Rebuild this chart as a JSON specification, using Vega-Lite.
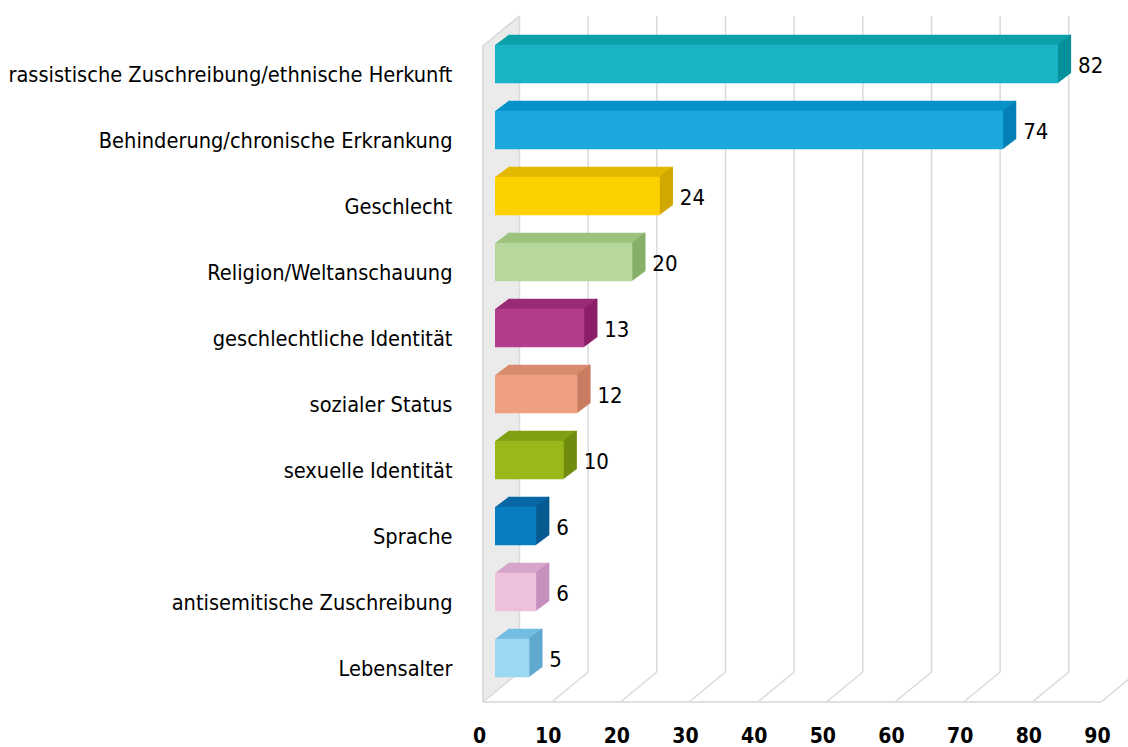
{
"$schema":"https://vega.github.io/schema/vega-lite/v6.json",
"width":618,"height":660,
"autosize":{"type":"none"},
"padding":{"left":495,"top":31,"right":15,"bottom":56},
"background":"white",
"config":{"view":{"stroke":null},
 "axisX":{"grid":false,"ticks":false,"domain":false,"labelFont":"Liberation Sans Narrow, DejaVu Sans Condensed, sans-serif","labelFontSize":21,"labelFontWeight":"bold","labelColor":"#000000","labelPadding":34,"labelOffset":-16,"labelFlush":false,"labelOverlap":false},
 "axisY":{"grid":false,"ticks":false,"domain":false,"labelFont":"Liberation Sans Narrow, DejaVu Sans Condensed, sans-serif","labelFontSize":21.6,"labelColor":"#000000","labelPadding":43,"labelOffset":12,"labelLimit":600}},
"datasets":{
 "bars":[
  {"cat":"rassistische Zuschreibung/ethnische Herkunft","value":82},
  {"cat":"Behinderung/chronische Erkrankung","value":74},
  {"cat":"Geschlecht","value":24},
  {"cat":"Religion/Weltanschauung","value":20},
  {"cat":"geschlechtliche Identität","value":13},
  {"cat":"sozialer Status","value":12},
  {"cat":"sexuelle Identität","value":10},
  {"cat":"Sprache","value":6},
  {"cat":"antisemitische Zuschreibung","value":6},
  {"cat":"Lebensalter","value":5}
 ],
 "grid":[{"v":0},{"v":10},{"v":20},{"v":30},{"v":40},{"v":50},{"v":60},{"v":70},{"v":80},{"v":90}],
 "one":[{"id":1}]
},
"data":{"name":"bars"},
"resolve":{"scale":{"color":"independent"}},
"layer":[
 {"data":{"name":"one"},
  "encoding":{"x":{"datum":0,"type":"quantitative","title":null},
   "y":{"datum":"rassistische Zuschreibung/ethnische Herkunft","type":"nominal","bandPosition":0.5,"title":null},
   "y2":{"datum":"Lebensalter","bandPosition":0.5}},
  "layer":[
   {"mark":{"type":"rule","stroke":"#ebebeb","strokeWidth":2.4,"xOffset":-11,"yOffset":-18.82,"y2Offset":43.18}},
   {"mark":{"type":"rule","stroke":"#ebebeb","strokeWidth":2.4,"xOffset":-9,"yOffset":-20.47,"y2Offset":41.53}},
   {"mark":{"type":"rule","stroke":"#ebebeb","strokeWidth":2.4,"xOffset":-7,"yOffset":-22.11,"y2Offset":39.89}},
   {"mark":{"type":"rule","stroke":"#ebebeb","strokeWidth":2.4,"xOffset":-5,"yOffset":-23.75,"y2Offset":38.25}},
   {"mark":{"type":"rule","stroke":"#ebebeb","strokeWidth":2.4,"xOffset":-3,"yOffset":-25.4,"y2Offset":36.6}},
   {"mark":{"type":"rule","stroke":"#ebebeb","strokeWidth":2.4,"xOffset":-1,"yOffset":-27.04,"y2Offset":34.96}},
   {"mark":{"type":"rule","stroke":"#ebebeb","strokeWidth":2.4,"xOffset":1,"yOffset":-28.69,"y2Offset":33.31}},
   {"mark":{"type":"rule","stroke":"#ebebeb","strokeWidth":2.4,"xOffset":3,"yOffset":-30.33,"y2Offset":31.67}},
   {"mark":{"type":"rule","stroke":"#ebebeb","strokeWidth":2.4,"xOffset":5,"yOffset":-31.97,"y2Offset":30.03}},
   {"mark":{"type":"rule","stroke":"#ebebeb","strokeWidth":2.4,"xOffset":7,"yOffset":-33.62,"y2Offset":28.38}},
   {"mark":{"type":"rule","stroke":"#ebebeb","strokeWidth":2.4,"xOffset":9,"yOffset":-35.26,"y2Offset":26.74}},
   {"mark":{"type":"rule","stroke":"#ebebeb","strokeWidth":2.4,"xOffset":11,"yOffset":-36.91,"y2Offset":25.09}},
   {"mark":{"type":"rule","stroke":"#ebebeb","strokeWidth":2.4,"xOffset":13,"yOffset":-38.55,"y2Offset":23.45}},
   {"mark":{"type":"rule","stroke":"#ebebeb","strokeWidth":2.4,"xOffset":15,"yOffset":-40.19,"y2Offset":21.81}},
   {"mark":{"type":"rule","stroke":"#ebebeb","strokeWidth":2.4,"xOffset":17,"yOffset":-41.84,"y2Offset":20.16}},
   {"mark":{"type":"rule","stroke":"#ebebeb","strokeWidth":2.4,"xOffset":19,"yOffset":-43.48,"y2Offset":18.52}},
   {"mark":{"type":"rule","stroke":"#ebebeb","strokeWidth":2.4,"xOffset":21,"yOffset":-45.13,"y2Offset":16.87}},
   {"mark":{"type":"rule","stroke":"#ebebeb","strokeWidth":2.4,"xOffset":23,"yOffset":-46.77,"y2Offset":15.23}},
   {"mark":{"type":"rule","stroke":"#d6d6d6","strokeWidth":1.5,"xOffset":-12,"yOffset":-18,"y2Offset":44}}
  ]},
 {"data":{"name":"one"},
  "mark":{"type":"rule","stroke":"#d6d6d6","strokeWidth":1.5,"xOffset":-12,"x2Offset":24.5,"yOffset":-18,"y2Offset":-48},
  "encoding":{"x":{"datum":0,"type":"quantitative","title":null},"x2":{"datum":0},
   "y":{"datum":"rassistische Zuschreibung/ethnische Herkunft","type":"nominal","bandPosition":0.5,"title":null},
   "y2":{"datum":"rassistische Zuschreibung/ethnische Herkunft","bandPosition":0.5}}},
 {"data":{"name":"one"},
  "mark":{"type":"rule","stroke":"#d6d6d6","strokeWidth":1.5,"xOffset":-12,"x2Offset":-12,"yOffset":44},
  "encoding":{"x":{"datum":0,"type":"quantitative","title":null},"x2":{"datum":90},
   "y":{"datum":"Lebensalter","type":"nominal","bandPosition":0.5,"title":null}}},
 {"data":{"name":"grid"},
  "mark":{"type":"rule","stroke":"#dadada","strokeWidth":1.5,"xOffset":24.5,"yOffset":-48,"y2Offset":14},
  "encoding":{"x":{"field":"v","type":"quantitative","title":null},
   "y":{"datum":"rassistische Zuschreibung/ethnische Herkunft","type":"nominal","bandPosition":0.5,"title":null},
   "y2":{"datum":"Lebensalter","bandPosition":0.5}}},
 {"data":{"name":"grid"},
  "mark":{"type":"rule","stroke":"#dadada","strokeWidth":1.5,"xOffset":24.5,"x2Offset":-12,"yOffset":14,"y2Offset":44},
  "encoding":{"x":{"field":"v","type":"quantitative","title":null},"x2":{"field":"v"},
   "y":{"datum":"Lebensalter","type":"nominal","bandPosition":0.5,"title":null},
   "y2":{"datum":"Lebensalter","bandPosition":0.5}}},
 {"encoding":{
   "x":{"field":"value","type":"quantitative","title":null,"scale":{"domain":[0,90],"nice":false,"zero":true}},
   "y":{"field":"cat","type":"nominal","title":null,"scale":{"domain":["rassistische Zuschreibung/ethnische Herkunft","Behinderung/chronische Erkrankung","Geschlecht","Religion/Weltanschauung","geschlechtliche Identität","sozialer Status","sexuelle Identität","Sprache","antisemitische Zuschreibung","Lebensalter"],"paddingInner":0.42,"paddingOuter":0.21}},
   "color":{"field":"cat","type":"nominal","legend":null,"scale":{"domain":["rassistische Zuschreibung/ethnische Herkunft","Behinderung/chronische Erkrankung","Geschlecht","Religion/Weltanschauung","geschlechtliche Identität","sozialer Status","sexuelle Identität","Sprache","antisemitische Zuschreibung","Lebensalter"],"range":["#0aa0a8","#0892c8","#e3b800","#9cc27e","#9b2a77","#d98b6e","#80a014","#0868a5","#d7a5ca","#72bde0"]}}},
  "layer":[
   {"mark":{"type":"bar","xOffset":1,"x2Offset":1,"yOffset":-0.77,"y2Offset":-0.77}},
   {"mark":{"type":"bar","xOffset":2,"x2Offset":2,"yOffset":-1.54,"y2Offset":-1.54}},
   {"mark":{"type":"bar","xOffset":3,"x2Offset":3,"yOffset":-2.31,"y2Offset":-2.31}},
   {"mark":{"type":"bar","xOffset":4,"x2Offset":4,"yOffset":-3.08,"y2Offset":-3.08}},
   {"mark":{"type":"bar","xOffset":5,"x2Offset":5,"yOffset":-3.85,"y2Offset":-3.85}},
   {"mark":{"type":"bar","xOffset":6,"x2Offset":6,"yOffset":-4.62,"y2Offset":-4.62}},
   {"mark":{"type":"bar","xOffset":7,"x2Offset":7,"yOffset":-5.38,"y2Offset":-5.38}},
   {"mark":{"type":"bar","xOffset":8,"x2Offset":8,"yOffset":-6.15,"y2Offset":-6.15}},
   {"mark":{"type":"bar","xOffset":9,"x2Offset":9,"yOffset":-6.92,"y2Offset":-6.92}},
   {"mark":{"type":"bar","xOffset":10,"x2Offset":10,"yOffset":-7.69,"y2Offset":-7.69}},
   {"mark":{"type":"bar","xOffset":11,"x2Offset":11,"yOffset":-8.46,"y2Offset":-8.46}},
   {"mark":{"type":"bar","xOffset":12,"x2Offset":12,"yOffset":-9.23,"y2Offset":-9.23}},
   {"mark":{"type":"bar","xOffset":13,"x2Offset":13,"yOffset":-10,"y2Offset":-10}}
  ]},
 {"encoding":{
   "x":{"field":"value","type":"quantitative","title":null},
   "x2":{"field":"value"},
   "y":{"field":"cat","type":"nominal","title":null},
   "color":{"field":"cat","type":"nominal","legend":null,"scale":{"domain":["rassistische Zuschreibung/ethnische Herkunft","Behinderung/chronische Erkrankung","Geschlecht","Religion/Weltanschauung","geschlechtliche Identität","sozialer Status","sexuelle Identität","Sprache","antisemitische Zuschreibung","Lebensalter"],"range":["#07929a","#0681b6","#cfa500","#84ad67","#8a1f69","#c77b60","#6d8a10","#065a90","#c590bd","#5ea8cc"]}}},
  "layer":[
   {"mark":{"type":"bar","xOffset":-0.2,"x2Offset":1,"yOffset":-0.77,"y2Offset":-0.77}},
   {"mark":{"type":"bar","xOffset":0.8,"x2Offset":2,"yOffset":-1.54,"y2Offset":-1.54}},
   {"mark":{"type":"bar","xOffset":1.8,"x2Offset":3,"yOffset":-2.31,"y2Offset":-2.31}},
   {"mark":{"type":"bar","xOffset":2.8,"x2Offset":4,"yOffset":-3.08,"y2Offset":-3.08}},
   {"mark":{"type":"bar","xOffset":3.8,"x2Offset":5,"yOffset":-3.85,"y2Offset":-3.85}},
   {"mark":{"type":"bar","xOffset":4.8,"x2Offset":6,"yOffset":-4.62,"y2Offset":-4.62}},
   {"mark":{"type":"bar","xOffset":5.8,"x2Offset":7,"yOffset":-5.38,"y2Offset":-5.38}},
   {"mark":{"type":"bar","xOffset":6.8,"x2Offset":8,"yOffset":-6.15,"y2Offset":-6.15}},
   {"mark":{"type":"bar","xOffset":7.8,"x2Offset":9,"yOffset":-6.92,"y2Offset":-6.92}},
   {"mark":{"type":"bar","xOffset":8.8,"x2Offset":10,"yOffset":-7.69,"y2Offset":-7.69}},
   {"mark":{"type":"bar","xOffset":9.8,"x2Offset":11,"yOffset":-8.46,"y2Offset":-8.46}},
   {"mark":{"type":"bar","xOffset":10.8,"x2Offset":12,"yOffset":-9.23,"y2Offset":-9.23}},
   {"mark":{"type":"bar","xOffset":11.8,"x2Offset":13,"yOffset":-10,"y2Offset":-10}}
  ]},
 {"mark":{"type":"bar"},
  "encoding":{
   "x":{"field":"value","type":"quantitative","title":null,"axis":{"values":[0,10,20,30,40,50,60,70,80,90],"title":null,"labelFlush":false}},
   "y":{"field":"cat","type":"nominal","title":null,"axis":{"title":null}},
   "color":{"field":"cat","type":"nominal","legend":null,"scale":{"domain":["rassistische Zuschreibung/ethnische Herkunft","Behinderung/chronische Erkrankung","Geschlecht","Religion/Weltanschauung","geschlechtliche Identität","sozialer Status","sexuelle Identität","Sprache","antisemitische Zuschreibung","Lebensalter"],"range":["#19b3c5","#1ba8dd","#fdd000","#b8d79b","#b43c8c","#efa082","#9ab81a","#0a7dc0","#edc0dc","#9dd8f2"]}}}},
 {"mark":{"type":"text","align":"left","baseline":"middle","dx":20,"dy":2,"fontSize":22,"font":"Liberation Sans Narrow, DejaVu Sans Condensed, sans-serif","color":"#000000"},
  "encoding":{
   "x":{"field":"value","type":"quantitative","title":null},
   "y":{"field":"cat","type":"nominal","title":null},
   "text":{"field":"value","type":"quantitative"}}}
]
}
